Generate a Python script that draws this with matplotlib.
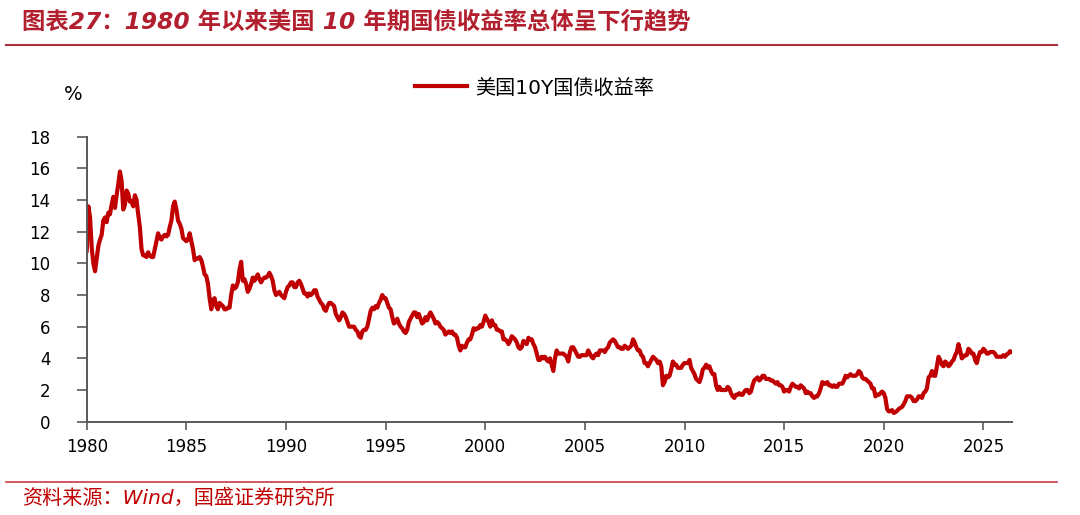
import matplotlib
matplotlib.use("Agg")
import matplotlib.pyplot as plt
import numpy as np

plt.rcParams['font.family'] = ['DejaVu Sans', 'Noto Sans CJK SC']

# 美国10年期国债收益率，月度（%），1980-01 起
yields_by_year = {
    1980: [10.8, 13.6, 12.9, 11.0, 10.0, 9.5, 10.3, 11.1, 11.5, 11.8, 12.7, 12.9],
    1981: [12.6, 13.2, 13.1, 13.7, 14.2, 13.5, 14.3, 15.0, 15.8, 15.2, 13.4, 13.7],
    1982: [14.6, 14.4, 13.9, 13.9, 13.6, 14.3, 14.0, 13.1, 12.3, 10.9, 10.5, 10.5],
    1983: [10.4, 10.7, 10.5, 10.4, 10.4, 10.9, 11.4, 11.9, 11.6, 11.5, 11.7, 11.8],
    1984: [11.7, 11.8, 12.3, 12.7, 13.6, 13.9, 13.4, 12.7, 12.5, 12.2, 11.6, 11.5],
    1985: [11.4, 11.5, 11.9, 11.4, 10.9, 10.2, 10.3, 10.3, 10.4, 10.2, 9.8, 9.3],
    1986: [9.2, 8.7, 7.8, 7.1, 7.7, 7.8, 7.3, 7.1, 7.5, 7.4, 7.3, 7.1],
    1987: [7.1, 7.2, 7.2, 8.0, 8.6, 8.4, 8.5, 8.8, 9.6, 10.1, 8.9, 9.0],
    1988: [8.7, 8.2, 8.4, 8.7, 9.1, 8.9, 9.1, 9.3, 9.0, 8.8, 9.0, 9.1],
    1989: [9.1, 9.2, 9.4, 9.2, 8.9, 8.3, 8.0, 8.1, 8.2, 8.0, 7.9, 7.8],
    1990: [8.2, 8.5, 8.6, 8.8, 8.8, 8.5, 8.5, 8.8, 8.9, 8.7, 8.4, 8.1],
    1991: [8.1, 7.9, 8.1, 8.0, 8.1, 8.3, 8.3, 7.9, 7.7, 7.5, 7.4, 7.1],
    1992: [7.0, 7.3, 7.5, 7.5, 7.4, 7.3, 6.8, 6.6, 6.4, 6.6, 6.9, 6.8],
    1993: [6.6, 6.3, 6.0, 6.0, 6.0, 6.0, 5.8, 5.7, 5.4, 5.3, 5.7, 5.8],
    1994: [5.8, 6.0, 6.5, 7.0, 7.2, 7.1, 7.3, 7.2, 7.5, 7.7, 8.0, 7.8],
    1995: [7.8, 7.5, 7.2, 7.1, 6.6, 6.2, 6.3, 6.5, 6.2, 6.0, 5.9, 5.7],
    1996: [5.6, 5.8, 6.3, 6.5, 6.7, 6.9, 6.9, 6.6, 6.8, 6.5, 6.2, 6.3],
    1997: [6.6, 6.4, 6.7, 6.9, 6.7, 6.5, 6.2, 6.3, 6.2, 6.0, 5.9, 5.8],
    1998: [5.5, 5.6, 5.7, 5.6, 5.7, 5.5, 5.5, 5.3, 4.8, 4.5, 4.8, 4.7],
    1999: [4.7, 5.0, 5.2, 5.2, 5.5, 5.9, 5.8, 5.9, 5.9, 6.1, 6.0, 6.3],
    2000: [6.7, 6.5, 6.3, 6.0, 6.4, 6.1, 6.1, 5.8, 5.8, 5.7, 5.7, 5.2],
    2001: [5.2, 5.1, 4.9, 5.1, 5.4, 5.3, 5.2, 5.0, 4.7, 4.6, 4.7, 5.1],
    2002: [5.0, 4.9, 5.3, 5.2, 5.2, 4.9, 4.7, 4.3, 3.9, 3.9, 4.1, 4.0],
    2003: [4.1, 3.9, 3.8, 4.0, 3.6, 3.2, 4.0, 4.5, 4.3, 4.3, 4.3, 4.3],
    2004: [4.2, 4.1, 3.8, 4.4, 4.7, 4.7, 4.5, 4.3, 4.1, 4.1, 4.2, 4.2],
    2005: [4.2, 4.2, 4.5, 4.3, 4.1, 4.0, 4.2, 4.3, 4.2, 4.5, 4.5, 4.5],
    2006: [4.4, 4.6, 4.7, 5.0, 5.1, 5.2, 5.1, 4.9, 4.7, 4.7, 4.6, 4.6],
    2007: [4.8, 4.7, 4.6, 4.7, 4.8, 5.2, 5.0, 4.7, 4.5, 4.5, 4.2, 4.1],
    2008: [3.7, 3.7, 3.5, 3.7, 3.9, 4.1, 4.0, 3.9, 3.7, 3.8, 3.5, 2.3],
    2009: [2.5, 2.9, 2.8, 2.9, 3.3, 3.8, 3.6, 3.6, 3.4, 3.4, 3.4, 3.6],
    2010: [3.7, 3.7, 3.7, 3.9, 3.4, 3.2, 3.0, 2.7, 2.6, 2.5, 2.8, 3.3],
    2011: [3.4, 3.6, 3.4, 3.5, 3.2, 3.0, 3.0, 2.3, 2.0, 2.2, 2.0, 2.0],
    2012: [2.0, 2.0, 2.2, 2.1, 1.8, 1.6, 1.5, 1.7, 1.7, 1.8, 1.7, 1.7],
    2013: [1.9, 2.0, 2.0, 1.8, 1.9, 2.3, 2.6, 2.7, 2.8, 2.6, 2.7, 2.9],
    2014: [2.9, 2.7, 2.7, 2.7, 2.6, 2.6, 2.5, 2.4, 2.5, 2.3, 2.3, 2.2],
    2015: [1.9, 2.0, 2.0, 1.9, 2.2, 2.4, 2.3, 2.2, 2.2, 2.1, 2.3, 2.2],
    2016: [2.1, 1.8, 1.9, 1.8, 1.8, 1.6, 1.5, 1.6, 1.6, 1.8, 2.1, 2.5],
    2017: [2.4, 2.4, 2.5, 2.3, 2.3, 2.2, 2.3, 2.2, 2.2, 2.4, 2.4, 2.4],
    2018: [2.6, 2.9, 2.8, 2.9, 3.0, 2.9, 2.9, 2.9, 3.0, 3.2, 3.1, 2.8],
    2019: [2.7, 2.7, 2.6, 2.5, 2.4, 2.1, 2.1, 1.6, 1.7, 1.7, 1.8, 1.9],
    2020: [1.8, 1.5, 0.8, 0.65, 0.67, 0.73, 0.55, 0.6, 0.68, 0.8, 0.87, 0.93],
    2021: [1.1, 1.3, 1.6, 1.6, 1.6, 1.5, 1.3, 1.3, 1.4, 1.6, 1.6, 1.5],
    2022: [1.8, 1.9, 2.1, 2.8, 2.9, 3.2, 2.9, 2.9, 3.5, 4.1, 3.9, 3.6],
    2023: [3.5, 3.8, 3.7, 3.5, 3.6, 3.8, 3.9, 4.2, 4.4, 4.9, 4.5, 4.0],
    2024: [4.1, 4.2, 4.2, 4.6, 4.5, 4.3, 4.3, 3.9, 3.7, 4.1, 4.4, 4.4],
    2025: [4.6, 4.5, 4.3, 4.3, 4.4, 4.4, 4.4, 4.3, 4.1, 4.1, 4.1, 4.1],
    2026: [4.2, 4.1, 4.25, 4.3, 4.45, 4.4],
}

years = []
values = []
for yr, monthly in yields_by_year.items():
    for m, v in enumerate(monthly):
        years.append(yr + m / 12)
        values.append(v)

x_ticks = list(range(1980, 2026, 5))
y_ticks = list(range(0, 19, 2))
line_color = '#C00000'
axis_color = '#595959'

fig = plt.figure(figsize=(10.8, 5.15), dpi=100)
ax = fig.add_axes([0.0803, 0.1812, 0.8570, 0.5534])

ax.plot(years, values, color=line_color, linewidth=3.0, label='美国10Y国债收益率',
        solid_joinstyle='round')

ax.set_xlim(1980, 2026.45)
ax.set_ylim(0, 18)
ax.set_xticks(x_ticks)
ax.set_yticks(y_ticks)
ax.tick_params(axis='x', length=6, width=1.2, color=axis_color, labelsize=12, pad=6)
ax.tick_params(axis='y', length=7, width=1.2, color=axis_color, labelsize=12, pad=19)

for side in ['top', 'right']:
    ax.spines[side].set_visible(False)
for side in ['left', 'bottom']:
    ax.spines[side].set_color(axis_color)
    ax.spines[side].set_linewidth(1.4)

# 单位与图例
fig.text(73 / 1080, 1 - 95 / 515, '%', fontsize=14, ha='center', va='center')
fig.legend(loc='center left', bbox_to_anchor=(415 / 1080, 1 - 88 / 515), frameon=False,
           fontsize=14.5, handlelength=2.6, handletextpad=0.4, borderaxespad=0, borderpad=0)

# 标题与来源
title_color = '#B21F2E'
fig.text(22 / 1080, 1 - 22 / 515, '图表27：1980 年以来美国 10 年期国债收益率总体呈下行趋势',
         fontsize=16.8, fontweight='bold', fontstyle='italic', color=title_color,
         ha='left', va='center')
fig.add_artist(plt.Line2D([6 / 1080, 1057 / 1080], [1 - 45 / 515, 1 - 45 / 515],
                          color='#A8303F', linewidth=1.5, transform=fig.transFigure))
fig.add_artist(plt.Line2D([6 / 1080, 1057 / 1080], [1 - 482 / 515, 1 - 482 / 515],
                          color='#C8384A', linewidth=1.2, transform=fig.transFigure))
fig.text(22 / 1080, 1 - 498 / 515, '资料来源：Wind，国盛证券研究所', fontsize=14.5,
         fontstyle='italic', color='#C00000', ha='left', va='center')

fig.savefig('out.png', dpi=100)
